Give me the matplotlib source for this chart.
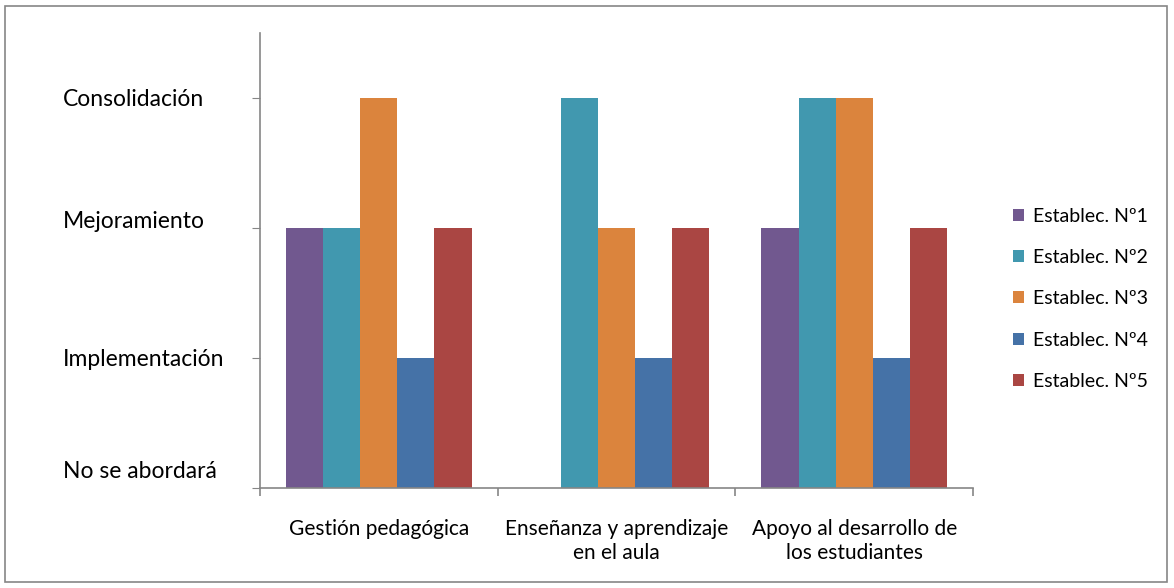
import matplotlib.pyplot as plt
import numpy as np
from matplotlib.patches import Rectangle
from matplotlib.transforms import ScaledTranslation

# areas evaluated and the level each school reached (0..3)
areas = ['Gestión pedagógica', 'Enseñanza y aprendizaje\nen el aula',
         'Apoyo al desarrollo de\nlos estudiantes']
levels = ['No se abordará', 'Implementación', 'Mejoramiento', 'Consolidación']
schools = ['Establec. Nº1', 'Establec. Nº2', 'Establec. Nº3',
           'Establec. Nº4', 'Establec. Nº5']
est1 = [2, 0, 2]
est2 = [2, 3, 3]
est3 = [3, 2, 3]
est4 = [1, 1, 1]
est5 = [2, 2, 2]
series = [est1, est2, est3, est4, est5]
colors = ['#71588F', '#4198AF', '#DB843D', '#4572A7', '#AA4643']

plt.rcParams['font.family'] = ['Lato', 'DejaVu Sans']

fig = plt.figure(figsize=(11.74, 5.88), dpi=100)
ax = fig.add_axes([260 / 1174, 1 - 488 / 588, 713 / 1174, 455 / 588])

# outer chart frame
fig.patches.append(Rectangle((5 / 1174, 1 - 582 / 588), 1162 / 1174, 576 / 588,
                             transform=fig.transFigure, fill=False,
                             edgecolor='#868686', linewidth=1.2))

x = np.arange(len(areas))
w = 0.156
for i, (vals, c, name) in enumerate(zip(series, colors, schools)):
    ax.bar(x + (i - 2) * w, vals, width=w, color=c, label=name, linewidth=0)

ax.set_xlim(-0.5, len(areas) - 0.5)
ax.set_ylim(0, 3.5)

for s in ['top', 'right']:
    ax.spines[s].set_visible(False)
for s in ['left', 'bottom']:
    ax.spines[s].set_color('#868686')
    ax.spines[s].set_linewidth(1.2)

ax.set_yticks(range(len(levels)))
ax.set_yticklabels(levels, ha='left', fontsize=16.5)
ax.tick_params(axis='y', direction='out', length=6, color='#868686',
               pad=136, labelcolor='black')
# lower labels sit a little above their ticks
for lab, dy in zip(ax.get_yticklabels(), [18, 0, 8, 0]):
    lab.set_transform(lab.get_transform() +
                      ScaledTranslation(0, dy / 100, fig.dpi_scale_trans))

ax.set_xticks(x)
ax.set_xticklabels(areas, fontsize=15, linespacing=1.3)
ax.tick_params(axis='x', which='major', length=0, pad=22)
ax.set_xticks(np.arange(len(areas) + 1) - 0.5, minor=True)
ax.tick_params(axis='x', which='minor', direction='out', length=6,
               color='#868686', width=1.2)

ax.legend(loc='center left', bbox_to_anchor=(1.031, 0.416), frameon=False,
          fontsize=14, handlelength=0.58, handleheight=0.58, handletextpad=0.45,
          labelspacing=1.25)

fig.savefig('out.png', dpi=100)
